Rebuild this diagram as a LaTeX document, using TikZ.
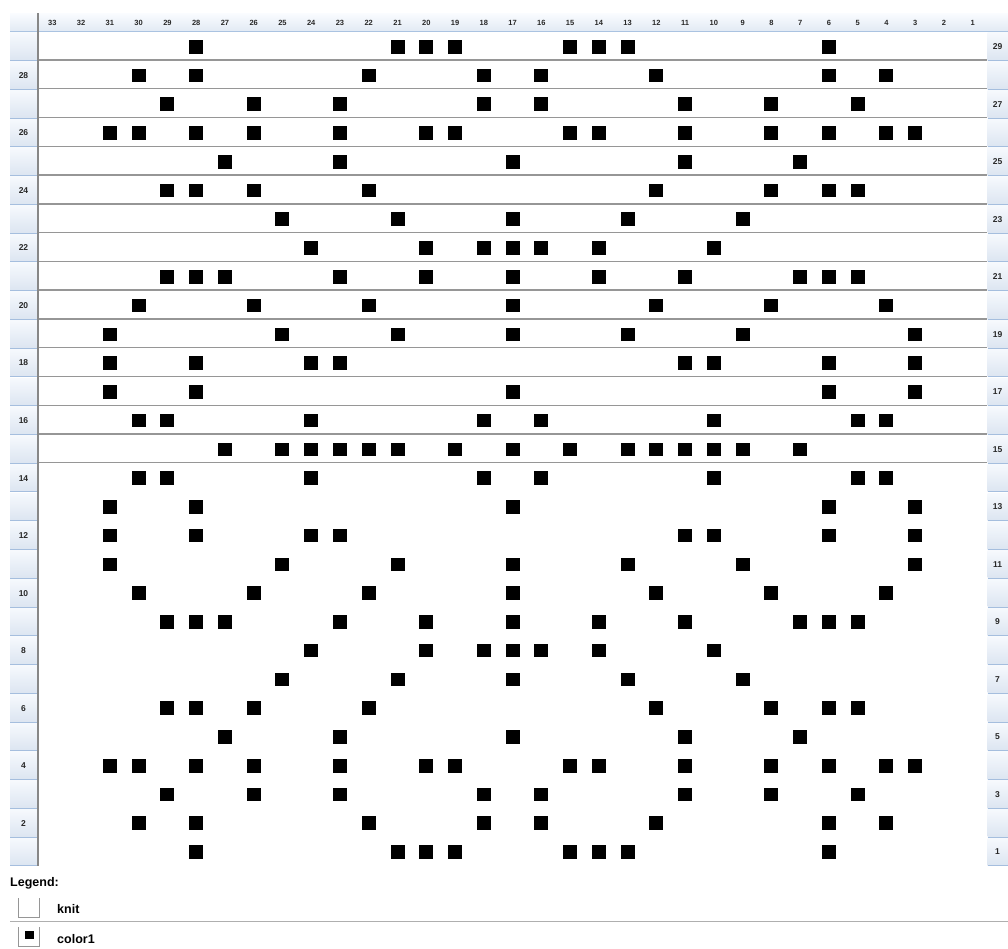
\documentclass[tikz,border=0pt]{standalone}
\usepackage{fontspec}
\setmainfont{Liberation Sans}
\definecolor{gridgray}{RGB}{150,150,150}
\definecolor{vgray}{RGB}{135,135,135}
\definecolor{hdrtop}{RGB}{250,252,255}
\definecolor{hdrbot}{RGB}{226,234,244}
\definecolor{hdrline}{RGB}{170,195,225}
\definecolor{boxtop}{RGB}{246,249,253}
\definecolor{boxbot}{RGB}{220,229,241}
\definecolor{boxline}{RGB}{165,190,222}
\definecolor{lbltext}{RGB}{40,40,40}
\definecolor{legline}{RGB}{175,175,175}
\begin{document}
\begin{tikzpicture}[x=1pt,y=-1pt,
  lbl/.style={font=\fontsize{7.5}{8}\selectfont\bfseries, text=lbltext, inner sep=0pt},
  rowlbl/.style={font=\fontsize{8.5}{9}\selectfont\bfseries, text=lbltext, inner sep=0pt},
  legtext/.style={font=\fontsize{12.5}{14}\selectfont\bfseries, text=black, inner sep=0pt, anchor=west},
  cellbox/.style={top color=boxtop, bottom color=boxbot, draw=none},
  stitch/.style={fill=black}
]
\useasboundingbox (0,0) rectangle (1008,948);
\fill[white] (0,0) rectangle (1008,948);
% header band
\shade[top color=hdrtop, bottom color=hdrbot] (10,13) rectangle (1008,31);
\draw[hdrline, line width=1.2pt] (10,31.3) -- (1008,31.3);
% left and right label boxes
\foreach \r in {1,...,29}{
  \pgfmathsetmacro\yt{32.3+(29-\r)*28.76}
  \pgfmathsetmacro\yb{\yt+28.76}
  \shade[cellbox] (10,\yt+0.6) rectangle (37,\yb-0.8);
  \draw[boxline, line width=1pt] (10,\yb-0.5) -- (37,\yb-0.5);
  \shade[cellbox] (987.5,\yt+0.6) rectangle (1008,\yb-0.8);
  \draw[boxline, line width=1pt] (987.5,\yb-0.5) -- (1008,\yb-0.5);
}
% row labels
\foreach \r in {2,4,...,28}{
  \pgfmathsetmacro\yc{46.7+(29-\r)*28.76}
  \node[rowlbl] (L\r) at (23.5,\yc) {\r};
}
\foreach \r in {1,3,...,29}{
  \pgfmathsetmacro\yc{46.7+(29-\r)*28.76}
  \node[rowlbl] (R\r) at (997.5,\yc) {\r};
}
% column labels
\foreach \c in {1,...,33}{
  \pgfmathsetmacro\xc{38+(33-\c+0.5)*28.76}
  \node[lbl] (H\c) at (\xc,22.5) {\c};
}
% horizontal grid lines (rows 29 to 15)
\foreach \n in {1,...,15}{
  \pgfmathsetmacro\yl{32.3+\n*28.76-1}
  \draw[gridgray, line width=1.3pt] (38,\yl) -- (987,\yl);
}
% vertical line
\draw[vgray, line width=1.3pt] (38,13) -- (38,866);
% stitches (left half, rows 29..15), mirrored
\foreach \r/\cols in {
  29/{28,21,20,19},
  28/{30,28,22,18},
  27/{29,26,23,18},
  26/{31,30,28,26,23,20,19},
  25/{27,23,17},
  24/{29,28,26,22},
  23/{25,21,17},
  22/{24,20,18,17},
  21/{29,28,27,23,20,17},
  20/{30,26,22,17},
  19/{31,25,21,17},
  18/{31,28,24,23},
  17/{31,28,17},
  16/{30,29,24,18},
  15/{27,25,24,23,22,21,19,17}}{
  \foreach \c in \cols {
    \pgfmathsetmacro\xa{38+(33-\c+0.5)*28.76}
    \pgfmathsetmacro\xb{38+(\c-1+0.5)*28.76}
    \pgfmathsetmacro\ya{46.7+(29-\r)*28.76}
    \pgfmathsetmacro\yb{46.7+(\r-1)*28.76}
    \fill[stitch] (\xa-7,\ya-6.8) rectangle (\xa+7,\ya+6.8);
    \fill[stitch] (\xb-7,\ya-6.8) rectangle (\xb+7,\ya+6.8);
    \fill[stitch] (\xa-7,\yb-6.8) rectangle (\xa+7,\yb+6.8);
    \fill[stitch] (\xb-7,\yb-6.8) rectangle (\xb+7,\yb+6.8);
  }
}
% legend
\node[legtext] (legend) at (10,883) {Legend:};
\draw[gridgray, line width=1pt] (18.5,898) -- (18.5,917) -- (39,917) -- (39,898);
\node[legtext] (knit) at (57,909.5) {knit};
\draw[legline, line width=1.5pt] (10,921.5) -- (1008,921.5);
\draw[gridgray, line width=1pt] (18.5,927) -- (18.5,946) -- (39,946) -- (39,927);
\fill[black] (25,931) rectangle (33.5,939);
\node[legtext] (color1) at (57,939.5) {color1};
\end{tikzpicture}
\end{document}
